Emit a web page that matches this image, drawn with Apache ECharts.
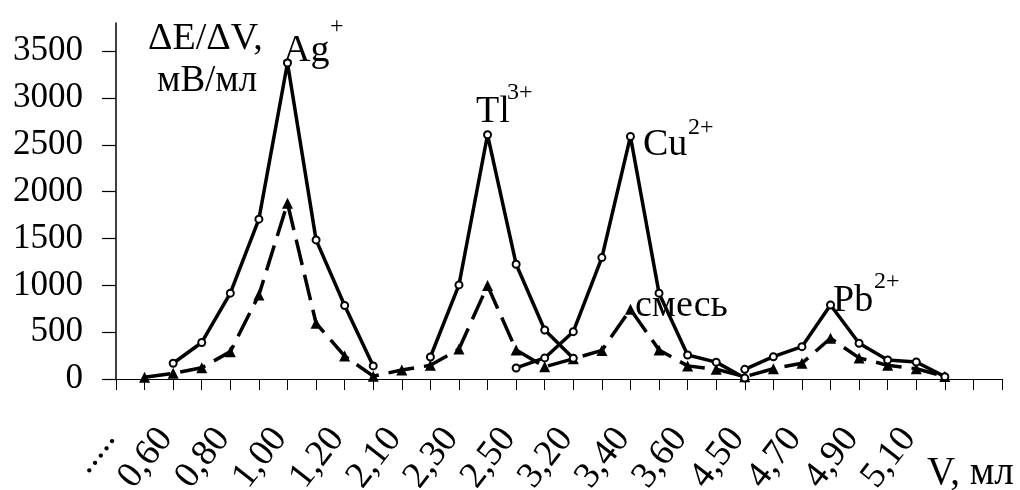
<!DOCTYPE html>
<html>
<head>
    <meta charset="UTF-8">
    <title>ΔE/ΔV</title>
    <script src="https://cdn.jsdelivr.net/npm/echarts@6/dist/echarts.min.js"></script>
</head>
<body style="margin:0;background:#fff;">
<div id="main" style="width:1020px;height:490px;"></div>
<script type="text/javascript">
    // объём титранта, мл (подписи через одну)
    var cats = ['.....', '0,50', '0,60', '0,70', '0,80', '0,90', '1,00', '1,10', '1,20', '2,00',
        '2,10', '2,20', '2,30', '2,40', '2,50', '3,10', '3,20', '3,30', '3,40', '3,50',
        '3,60', '4,40', '4,50', '4,60', '4,70', '4,80', '4,90', '5,00', '5,10', '5,20', '', ''];
    var yTicks = [0, 500, 1000, 1500, 2000, 2500, 3000, 3500];

    // ΔE/ΔV, мВ/мл
    var ag  = [null, null, 168, 390, 916, 1706, 3373, 1485, 785, 140, null, null, null, null, null, null,
        null, null, null, null, null, null, null, null, null, null, null, null, null, null, null, null];
    var tl  = [null, null, null, null, null, null, null, null, null, null, null, 235, 1004, 2607, 1225, 523,
        221, null, null, null, null, null, null, null, null, null, null, null, null, null, null, null];
    var cu  = [null, null, null, null, null, null, null, null, null, null, null, null, null, null, 118, 225,
        505, 1296, 2589, 916, 256, 180, 10, null, null, null, null, null, null, null, null, null];
    var pb  = [null, null, null, null, null, null, null, null, null, null, null, null, null, null, null, null,
        null, null, null, null, null, null, 103, 238, 345, 790, 381, 203, 182, 25, null, null];
    var mix = [null, 18, 61, 120, 292, 897, 1877, 595, 245, 30, 96, 146, 320, 997, 310, 130,
        216, 305, 745, 310, 140, 104, 25, 110, 168, 435, 225, 146, 110, 28, null, null];

    var FONT = '"Liberation Serif", "DejaVu Serif", serif';

    var myChart = echarts.init(document.getElementById('main'), null, {renderer: 'canvas'});

    function solid(name, data) {
        return {
            name: name,
            type: 'line',
            data: data,
            symbol: 'emptyCircle',
            symbolSize: 7,
            showAllSymbol: true,
            z: 3,
            lineStyle: {color: '#000', width: 3.5, type: 'solid'},
            itemStyle: {color: '#000', borderWidth: 1.5},
            animation: false
        };
    }

    // текст по базовой линии
    function txt(s, x, base, size) {
        return {
            type: 'text',
            x: x,
            y: base - size * 0.8,
            style: {text: s, fontFamily: FONT, fontSize: size, fill: '#000'}
        };
    }

    var option = {
        backgroundColor: '#fff',
        animation: false,
        grid: {left: 116, right: 18, top: 23, bottom: 111, containLabel: false, outerBoundsMode: 'none'},
        xAxis: {
            type: 'category',
            boundaryGap: false,
            data: cats,
            axisLine: {lineStyle: {color: '#000', width: 1.2}},
            axisTick: {show: true, interval: 0, length: 11, lineStyle: {color: '#000', width: 1}},
            axisLabel: {
                interval: 1,
                rotate: 52,
                margin: 44,
                padding: [0, 12, 0, 0],
                fontFamily: FONT,
                fontSize: 37,
                color: '#000'
            },
            splitLine: {show: false}
        },
        yAxis: {
            type: 'value',
            min: 0,
            max: 3800,
            axisLine: {show: true, lineStyle: {color: '#000', width: 1.5}},
            axisTick: {show: true, length: 14, customValues: yTicks, lineStyle: {color: '#000', width: 1.2}},
            axisLabel: {
                customValues: yTicks,
                margin: 33,
                fontFamily: FONT,
                fontSize: 35,
                color: '#000',
                formatter: function (v) { return String(v); }
            },
            splitLine: {show: false}
        },
        series: [
            {
                name: 'смесь',
                type: 'line',
                data: mix,
                symbol: 'triangle',
                symbolSize: 11,
                showAllSymbol: true,
                z: 2,
                lineStyle: {color: '#000', width: 3.5, type: [26, 10]},
                itemStyle: {color: '#000'},
                animation: false
            },
            solid('Ag+', ag),
            solid('Tl3+', tl),
            solid('Cu2+', cu),
            solid('Pb2+', pb)
        ],
        graphic: [
            txt('ΔE/ΔV,', 148, 50, 38),
            txt('мВ/мл', 157, 92, 37),
            txt('Ag', 283, 62, 38),
            txt('+', 330, 34, 24),
            txt('Tl', 476, 123, 38),
            txt('3+', 507, 100, 24),
            txt('Cu', 643, 156, 38),
            txt('2+', 688, 135, 24),
            txt('смесь', 635, 317, 38),
            txt('Pb', 833, 312, 38),
            txt('2+', 874, 289, 24),
            txt('V, мл', 927, 485, 39)
        ]
    };

    myChart.setOption(option);
</script>
</body>
</html>
